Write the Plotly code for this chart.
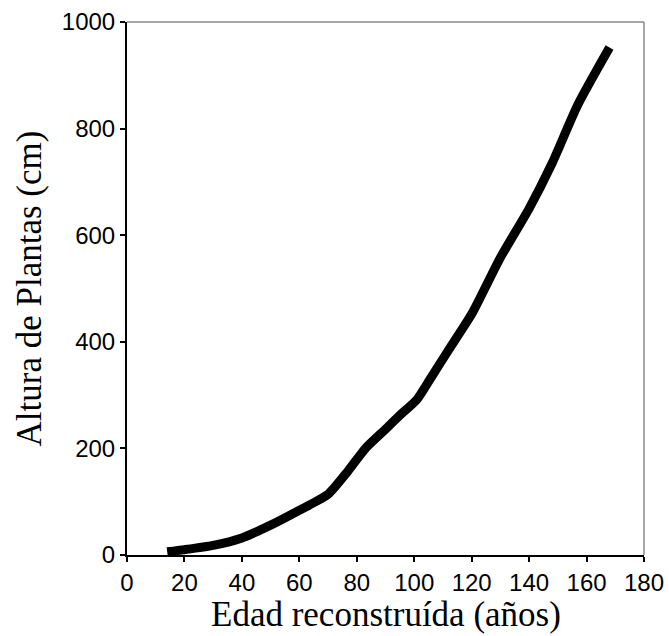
import plotly.graph_objects as go

edad = [14, 20, 30, 40, 50, 60, 70, 77, 83, 90, 95, 101, 106, 112, 120, 130, 140, 148, 157, 168]
altura = [6, 10, 18, 32, 56, 84, 114, 158, 200, 236, 262, 292, 334, 385, 452, 558, 650, 735, 845, 952]

x_ticks = [0, 20, 40, 60, 80, 100, 120, 140, 160, 180]
y_ticks = [0, 200, 400, 600, 800, 1000]

x_title = "Edad reconstruída (años)"
y_title = "Altura de Plantas (cm)"

fig = go.Figure()
fig.add_trace(go.Scatter(x=edad, y=altura, mode="lines",
                         line=dict(color="black", width=9, shape="spline", smoothing=0.6),
                         showlegend=False, hoverinfo="skip"))

fig.add_shape(type="line", xref="paper", yref="paper", x0=0, x1=1, y0=1, y1=1,
              line=dict(color="#888888", width=1.5))
fig.add_shape(type="line", xref="paper", yref="paper", x0=1, x1=1, y0=0, y1=1,
              line=dict(color="#888888", width=1.5))

title_font = dict(size=35, family="Liberation Serif, Times New Roman", color="black")
fig.add_annotation(text=x_title, xref="paper", yref="paper", x=0.5, y=0,
                   xanchor="center", yanchor="top", yshift=-38, showarrow=False,
                   font=title_font)
fig.add_annotation(text=y_title, xref="paper", yref="paper", x=0, y=0.5,
                   xanchor="center", yanchor="middle", xshift=-98, textangle=-90,
                   showarrow=False, font=title_font)

fig.update_layout(
    width=669, height=636,
    margin=dict(l=127, r=25, t=22, b=81, autoexpand=False),
    paper_bgcolor="white", plot_bgcolor="white",
    font=dict(family="Liberation Sans, Arial", color="black"),
)
fig.update_xaxes(range=[0, 180], tickvals=x_ticks, ticktext=[str(v) for v in x_ticks],
                 automargin=False, ticklabeloverflow="allow",
                 showgrid=False, zeroline=False, showline=True, linecolor="black", linewidth=2,
                 ticks="outside", ticklen=5, tickwidth=1.5, tickcolor="black",
                 tickfont=dict(size=24, family="Liberation Sans, Arial"))
fig.update_yaxes(range=[0, 1000], tickvals=y_ticks, ticktext=[str(v) for v in y_ticks],
                 automargin=False, ticklabeloverflow="allow",
                 showgrid=False, zeroline=False, showline=True, linecolor="black", linewidth=2,
                 ticks="outside", ticklen=5, tickwidth=1.5, tickcolor="black",
                 tickfont=dict(size=24, family="Liberation Sans, Arial"))

fig.write_html("out.html", config={"displayModeBar": False},
               post_script="document.body.style.margin='0';")
